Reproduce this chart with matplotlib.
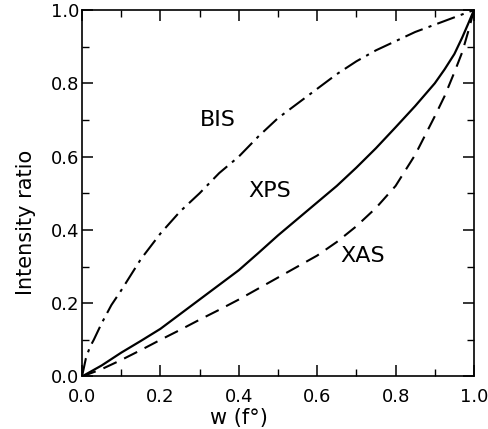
import matplotlib
matplotlib.use("Agg")
import matplotlib.pyplot as plt
from matplotlib.ticker import MultipleLocator

# ---------------------------------------------------------------------------
# data
# ---------------------------------------------------------------------------
bis_w = [0.0, 0.01, 0.02, 0.03, 0.05, 0.075, 0.1, 0.15, 0.2, 0.25, 0.3, 0.35,
         0.4, 0.45, 0.5, 0.55, 0.6, 0.65, 0.7, 0.75, 0.8, 0.85, 0.9, 0.95, 1.0]
bis_i = [0.0, 0.05, 0.08, 0.10, 0.145, 0.195, 0.235, 0.32, 0.39, 0.45, 0.50, 0.555,
         0.60, 0.655, 0.705, 0.745, 0.785, 0.825, 0.86, 0.89, 0.915, 0.94, 0.96, 0.98, 1.0]

xps_w = [0.0, 0.05, 0.1, 0.15, 0.2, 0.25, 0.3, 0.35, 0.4, 0.45, 0.5, 0.55,
         0.6, 0.65, 0.7, 0.75, 0.8, 0.85, 0.9, 0.925, 0.95, 0.97, 0.985, 1.0]
xps_i = [0.0, 0.03, 0.065, 0.097, 0.13, 0.17, 0.21, 0.25, 0.29, 0.337, 0.385, 0.43,
         0.475, 0.52, 0.57, 0.623, 0.68, 0.738, 0.80, 0.838, 0.88, 0.925, 0.962, 1.0]

xas_w = [0.0, 0.05, 0.1, 0.15, 0.2, 0.25, 0.3, 0.35, 0.4, 0.45, 0.5, 0.55,
         0.6, 0.65, 0.7, 0.75, 0.8, 0.85, 0.9, 0.925, 0.95, 0.97, 0.985, 1.0]
xas_i = [0.0, 0.02, 0.045, 0.072, 0.10, 0.127, 0.155, 0.182, 0.21, 0.24, 0.27, 0.30,
         0.33, 0.367, 0.41, 0.46, 0.52, 0.605, 0.71, 0.765, 0.83, 0.885, 0.94, 1.0]

ticks = [0.0, 0.2, 0.4, 0.6, 0.8, 1.0]
tick_labels = ["0.0", "0.2", "0.4", "0.6", "0.8", "1.0"]

FONT = "DejaVu Sans"

fig = plt.figure(figsize=(4.89, 4.29), dpi=100)
ax = fig.add_axes([0.1677, 0.1224, 0.8016, 0.8543])

ax.plot(bis_w, bis_i, color="black", lw=1.5, dashes=(9, 3, 1.5, 3))
ax.plot(xps_w, xps_i, color="black", lw=1.6, linestyle="-")
ax.plot(xas_w, xas_i, color="black", lw=1.5, dashes=(7, 4))

ax.text(0.347, 0.70, "BIS", fontsize=16, family=FONT, ha="center", va="center")
ax.text(0.48, 0.505, "XPS", fontsize=16, family=FONT, ha="center", va="center")
ax.text(0.716, 0.329, "XAS", fontsize=16, family=FONT, ha="center", va="center")

ax.set_xlim(0, 1)
ax.set_ylim(0, 1)
ax.set_xticks(ticks)
ax.set_yticks(ticks)
ax.set_xticklabels(tick_labels, fontsize=13, family=FONT)
ax.set_yticklabels(tick_labels, fontsize=13, family=FONT)
ax.xaxis.set_minor_locator(MultipleLocator(0.1))
ax.yaxis.set_minor_locator(MultipleLocator(0.1))
ax.tick_params(which="major", direction="in", length=8, width=1.1,
               top=True, right=True)
ax.tick_params(which="minor", direction="in", length=5, width=1.0,
               top=True, right=True)
ax.tick_params(axis="x", which="major", pad=8)
ax.tick_params(axis="y", which="major", pad=2)

for sp in ax.spines.values():
    sp.set_linewidth(1.2)

ax.set_xlabel("w (f°)", fontsize=15, family=FONT)
ax.xaxis.set_label_coords(0.40, -0.085)
ax.set_ylabel("Intensity ratio", fontsize=15, family=FONT)
ax.yaxis.set_label_coords(-0.117, 0.42)

fig.savefig("out.png", dpi=100)
